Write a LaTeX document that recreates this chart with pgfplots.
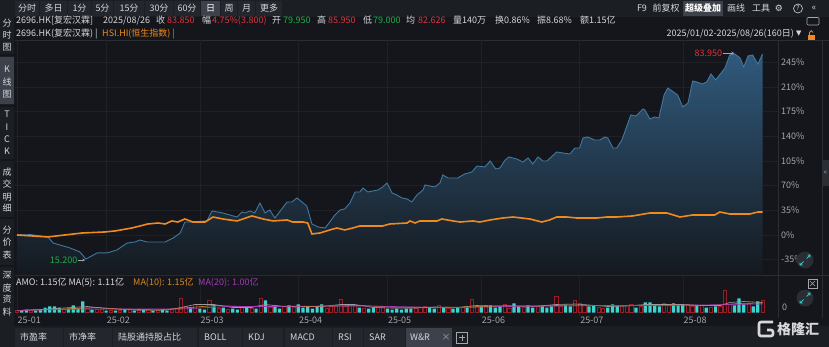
\documentclass[border=0pt]{standalone}
\usepackage{pgfplots}
\pgfplotsset{compat=1.18}
\usepackage{pgfplotstable}
\usepackage{fontspec}
\setmainfont{Noto Sans CJK SC}
\newfontfamily\dejavu{DejaVu Sans}
\definecolor{bg}{HTML}{14161B}
\definecolor{barbg}{HTML}{1B1E23}
\definecolor{tabbg}{HTML}{23262C}
\definecolor{tabhi}{HTML}{3C414B}
\definecolor{sepc}{HTML}{2A2D34}
\definecolor{gridc}{HTML}{1E2126}
\definecolor{txt}{HTML}{D6D8DC}
\definecolor{gry}{HTML}{A3A6AC}
\definecolor{upred}{HTML}{E0323C}
\definecolor{dngreen}{HTML}{1FAE4B}
\definecolor{hsiorange}{HTML}{F08A1C}
\definecolor{bline}{HTML}{3F78A0}
\definecolor{areatop}{HTML}{30597B}
\definecolor{areabot}{HTML}{15191F}
\definecolor{volcyan}{HTML}{3CD3D0}
\definecolor{volred}{HTML}{9C1C25}
\definecolor{mapurple}{HTML}{A23BB5}
\definecolor{maorange}{HTML}{D98A22}
\definecolor{magray}{HTML}{9A9CA0}
\newcommand{\fs}{\fontsize{9}{10}\selectfont}

\pgfplotstableread{
i p
0 0
3 0.5
6.6 -2.8
7.7 -11.4
11.3 -18.4
13.4 -24.1
14.7 -34.1
17.1 -25.5
19.2 -25.5
21.3 -21.3
23.5 -11.4
25.2 -9.9
26.2 -7.1
27.7 -9.9
31.6 -9.9
33.3 -4.3
34.8 2.8
35.8 18.4
36.9 18.4
40.5 19.9
41.6 34.1
43.9 31.2
46.9 25.5
48.0 32.6
48.6 31.2
49.7 34.1
50.7 31.2
51.8 45.4
52.9 31.2
53.9 35.5
55.0 24.1
57.6 46.8
58.6 46.8
59.7 52.5
61.8 41.2
62.9 15.6
64.2 11.4
65.7 9.9
66.7 18.4
67.8 28.4
68.9 35.5
69.9 36.9
71.0 45.4
72.1 61.0
73.1 61.0
73.8 66.7
74.8 61.0
77.0 63.9
78.0 68.1
78.9 73.8
80.0 59.6
81.0 56.8
82.1 52.5
83.2 51.1
84.2 46.8
85.3 56.8
86.6 63.9
87.0 71.0
89.1 68.1
90.2 73.8
90.8 85.1
91.9 80.9
94.0 80.9
95.5 86.6
97.0 89.4
98.1 97.9
99.8 96.5
100.9 105.0
102.1 93.7
103.0 95.1
104.1 106.4
104.9 110.7
106.6 107.8
107.9 103.6
109.0 109.3
110.0 100.7
111.1 110.7
112.2 105.0
113.0 105.0
115.1 117.8
116.4 116.4
117.9 114.9
119.0 123.5
120.0 123.5
120.7 137.6
121.7 139.1
123.2 134.8
124.3 134.8
125.4 139.1
126.0 137.6
127.1 123.5
127.9 123.5
129.0 134.8
130.9 170.3
132.0 168.9
133.5 178.8
133.9 177.4
135.0 164.6
136.0 167.4
136.9 166.0
138.0 198.7
138.8 208.6
140.9 198.7
142.0 181.6
143.1 187.3
144.1 218.5
145.0 217.1
146.1 214.3
147.1 217.1
148.0 228.5
149.0 220.0
151.0 237.0
152.0 255.4
153.1 256.8
154.2 251.2
155.0 238.4
155.9 254.0
156.9 255.4
158.0 242.6
159.0 256.8
}\bluetab

\pgfplotstableread{
i p
0 0
6.6 -2.8
10.2 0
13.9 2.8
18.8 4.3
20.9 5.7
24.5 9.9
27.9 15.6
30.1 17.0
31.6 15.6
33.0 19.9
34.3 18.4
35.8 22.7
37.5 18.4
40.1 18.4
41.8 25.5
43.9 22.7
46.9 19.9
50.1 27.0
52.5 22.7
54.6 19.9
57.6 21.3
58.8 18.4
61.0 18.4
62.0 17.0
62.9 1.4
64.6 2.8
66.7 7.1
68.2 9.9
69.9 7.1
71.6 9.9
73.1 12.8
78.0 12.8
79.5 15.6
83.2 17.0
83.8 19.9
84.9 17.0
85.9 19.9
89.6 19.9
90.6 22.7
93.0 19.9
94.5 18.4
97.2 19.9
98.7 18.4
100.9 21.3
103.6 24.1
105.8 25.5
109.4 22.7
111.9 18.4
113.6 21.3
115.1 25.5
117.3 25.5
119.4 24.1
123.7 24.1
125.8 25.5
127.9 25.5
131.3 27.0
135.0 31.2
138.6 31.2
141.4 25.5
144.1 28.4
148.8 28.4
149.9 32.6
152.0 29.8
156.3 29.8
158.0 32.6
159.0 32.6
}\hsitab

\begin{document}
\begin{tikzpicture}[x=1pt,y=1pt]
\path[use as bounding box] (0,0) rectangle (829,-347);
\fill[bg] (0,0) rectangle (829,-347);
% ---------- top toolbar
\fill[barbg] (0,0) rectangle (829,-17);
\foreach \a/\b/\t in {15/39/分时,40/67/多日,68/91/1分,92/113/5分,114/144/15分,145/173/30分,174/200/60分,201/220/日,221/237/周,238/255/月,256/282/更多}{
  \fill[tabbg] (\a,-1) rectangle (\b,-16);
  \node[font=\fs, text=txt, inner sep=0pt] at ({(\a+\b)/2},-8.5) {\t};
}
\fill[tabhi] (201,-1) rectangle (220,-16);
\node[font=\fs, text=white, inner sep=0pt] at (210.5,-8.5) {日};
\node[font=\fs, text=txt, inner sep=0pt] at (642,-8.5) {F9};
\node[font=\fs, text=txt, inner sep=0pt] at (666,-8.5) {前复权};
\fill[tabhi] (683,-1) rectangle (723,-16);
\node[font=\fs\bfseries, text=white, inner sep=0pt] at (703,-8.5) {超级叠加};
\node[font=\fs, text=txt, inner sep=0pt] at (736,-8.5) {画线};
\node[font=\fs, text=txt, inner sep=0pt] at (761,-8.5) {工具};
\node[font=\dejavu\fontsize{9}{9}\selectfont, text=txt, inner sep=0pt] at (779,-8.5) {⚙};
\draw[txt, line width=0.6pt] (798,-8.5) circle (4.5);
\node[font=\fontsize{6.5}{7}\selectfont, text=txt, inner sep=0pt] at (798,-8.5) {?};
\node[font=\fs, text=txt, inner sep=0pt] at (814,-8.5) {«};
% ---------- left sidebar
\fill[barbg] (0,-17) rectangle (14,-326);
\fill[tabhi] (0,-57) rectangle (14,-104);
\foreach \y in {55,106,160,218,266}{\draw[bg, line width=1.2pt] (0,-\y) -- (14,-\y);}
\foreach \y/\t in {23/分,35/时,47/图,69/K,82/线,94/图,114/T,127/I,139/C,151/K,172/成,184/交,197/明,208/细,230/分,242/价,255/表,275/深,288/度,299/资,312/料}{
  \node[font=\fs, text=txt, inner sep=0pt] at (7,-\y) {\t};
}
% ---------- info rows
\begin{scope}[every node/.style={font=\fs, inner sep=0pt, anchor=west}]
\node[text=txt] at (16,-20.5) {2696.HK[复宏汉霖]};
\node[text=txt] at (103,-20.5) {2025/08/26};
\node[text=txt] at (156,-20.5) {收};
\node[text=upred] at (167,-20.5) {83.850};
\node[text=txt] at (202,-20.5) {幅};
\node[text=upred] at (212,-20.5) {4.75\%(3.800)};
\node[text=txt] at (272,-20.5) {开};
\node[text=dngreen] at (283,-20.5) {79.950};
\node[text=txt] at (317,-20.5) {高};
\node[text=upred] at (328,-20.5) {85.950};
\node[text=txt] at (363,-20.5) {低};
\node[text=dngreen] at (373,-20.5) {79.000};
\node[text=txt] at (406,-20.5) {均};
\node[text=upred] at (418,-20.5) {82.626};
\node[text=txt] at (453,-20.5) {量140万};
\node[text=txt] at (495,-20.5) {换0.86\%};
\node[text=txt] at (537,-20.5) {振8.68\%};
\node[text=txt] at (580,-20.5) {额1.15亿};
\node[text=txt] at (16,-34) {2696.HK(复宏汉霖) |};
\node[text=hsiorange] at (102,-34) {HSI.HI(恒生指数) |};
\node[text=txt, anchor=east] at (794,-34) {2025/01/02-2025/08/26(160日)};
\node[text=txt, font=\dejavu\fontsize{7}{7}\selectfont] at (796,-34) {▼};
\end{scope}
\fill[hsiorange] (808,-35) rectangle (815,-40);
\draw[hsiorange, line width=0.8pt] (809.5,-35) -- (809.5,-32.5) arc (180:0:1.8);
\draw[gry, line width=0.6pt, rounded corners=1pt] (807,-17.5) rectangle (819,-25);
% ---------- frame lines
\draw[sepc, line width=0.6pt] (15,-40) -- (829,-40);
\draw[sepc, line width=0.6pt] (15,-275.5) -- (829,-275.5);
\draw[sepc, line width=0.6pt] (778,-40) -- (778,-318);
\draw[sepc, line width=0.6pt] (822,-40) -- (822,-318);
% ---------- main axis
\begin{axis}[at={(15pt,-275pt)}, anchor=south west, scale only axis,
  width=763pt, height=235pt,
  xmin=-0.43, xmax=162.3, ymin=-56.8, ymax=276.7,
  axis line style={draw=none}, major tick length=0pt,
  xtick={0,19,39,60,79,99,120,142}, xticklabels={},
  ytick={-35,0,35,70,105,140,175,210,245},
  yticklabels={-35\%,0\%,35\%,70\%,105\%,140\%,175\%,210\%,245\%},
  yticklabel pos=right,
  yticklabel style={font=\fs, text=gry, anchor=west, inner sep=0pt, xshift=3pt},
  grid=major, major grid style={gridc, line width=0.5pt},
]
\addplot[draw=none, top color=areatop, bottom color=areabot] table[x=i,y=p] {\bluetab}
  -- (axis cs:159,-56.8) -- (axis cs:0,-56.8) -- cycle;
\addplot[bline, line width=0.9pt] table[x=i,y=p] {\bluetab};
\addplot[hsiorange, line width=1.6pt] table[x=i,y=p] {\hsitab};
\draw[gry, ->, >=stealth, line width=0.4pt] (axis cs:13.0,-35.5) -- (axis cs:14.6,-35.5);
\node[font=\fs, text=dngreen, anchor=east, inner sep=0pt] at (axis cs:12.9,-35.5) {15.200};
\draw[gry, ->, >=stealth, line width=0.4pt] (axis cs:150.5,258) -- (axis cs:153.0,258);
\node[font=\fs, text=upred, anchor=east, inner sep=0pt] at (axis cs:150.4,258) {83.950};
\end{axis}
% ---------- volume axis
\begin{axis}[at={(15pt,-316pt)}, anchor=south west, scale only axis,
  width=763pt, height=40pt,
  xmin=-0.43, xmax=162.3, ymin=-3.5, ymax=36.5,
  axis line style={draw=none}, major tick length=0pt, ytick=\empty,
  xtick={0,19,39,60,79,99,120,142},
  xticklabels={25-01,25-02,25-03,25-04,25-05,25-06,25-07,25-08},
  xticklabel style={font=\fs, text=gry, anchor=north west, inner sep=0pt, yshift=-1pt, xshift=0.5pt},
  xmajorgrids, major grid style={gridc, line width=0.5pt},
]
\addplot[ybar, bar width=3.2pt, bar shift=0pt, fill=volcyan, draw=none] coordinates {
(1,2)(2,3)(4,2)(5,3)(6,5)(7,6)(8,6)(9,5)(11,4)(12,7)(13,4)(14,11)(16,3)(19,2)(21,2)(23,3)(25,2)(27,3)(29,2)(31,3)(32,2)(37,5)(39,4)(40,3)(42,6)(44,5)(46,4)(47,3)(49,5)(51,4)(53,12)(55,6)(56,4)(58,7)(60,8)(61,5)(62,6)(63,4)(64,6)(65,8)(73,5)(75,4)(76,5)(79,4)(80,3)(81,4)(82,3)(83,4)(84,4)(88,5)(89,4)(91,5)(93,4)(94,5)(96,5)(99,6)(101,7)(102,5)(103,6)(106,9)(107,6)(109,7)(110,5)(112,6)(113,5)(114,6)(117,7)(118,6)(122,6)(123,7)(126,5)(127,8)(128,6)(132,5)(134,10)(135,10)(136,8)(137,6)(140,9)(141,7)(142,8)(145,7)(147,5)(149,6)(153,7)(154,14)(155,8)(157,6)(158,11)};
\addplot[ybar, bar width=3.2pt, bar shift=0pt, draw=volred, fill=none, line width=0.6pt] coordinates {
(0,2)(3,2)(10,3)(15,4)(17,3)(18,3)(20,2)(22,2)(24,3)(26,2)(28,3)(30,2)(33,3)(34,4)(35,14)(36,6)(38,8)(41,12)(43,4)(45,3)(48,5)(50,4)(52,14)(54,5)(57,6)(59,5)(66,4)(67,6)(68,7)(69,13)(70,6)(71,8)(72,7)(74,4)(77,5)(78,6)(85,4)(86,5)(87,6)(90,7)(92,4)(95,5)(97,13)(98,6)(100,7)(104,8)(105,4)(108,5)(111,6)(115,16)(116,6)(119,12)(120,9)(121,7)(124,5)(125,4)(129,6)(130,7)(131,8)(133,6)(138,9)(139,7)(143,8)(144,6)(146,7)(148,5)(150,6)(151,22)(152,8)(156,9)(159,12)};
\addplot[magray, line width=0.6pt] coordinates {(0,2)(5,3)(10,4.5)(15,6)(19,4)(25,2.5)(32,2.5)(35,5)(38,8)(42,8)(46,5)(50,5)(53,8)(57,6)(61,6)(65,6)(69,8)(72,8)(76,5)(80,4.5)(85,4.5)(89,5.5)(94,5)(98,7)(102,6.5)(106,6.5)(110,6)(115,8)(119,8.5)(122,7.5)(126,6)(130,6.5)(134,8)(138,8)(142,8)(146,7)(150,7)(152,10)(155,11)(159,10)};
\addplot[maorange, line width=0.6pt] coordinates {(0,2)(10,3.5)(17,5)(22,3.5)(30,2.5)(37,5)(42,7)(48,6)(55,6.5)(62,6)(68,6.5)(73,7)(80,5.5)(88,5)(96,5.5)(104,6.5)(112,6.5)(118,7.5)(124,7)(132,7)(140,7.5)(148,7)(154,9)(159,9.5)};
\addplot[mapurple, line width=0.6pt] coordinates {(0,2)(15,3.5)(25,3.5)(35,3.5)(45,6)(55,6)(65,6.5)(75,6.5)(85,5.5)(95,5)(105,6)(115,6.5)(125,7)(135,7)(145,7.5)(159,8.5)};
\end{axis}
% volume legend
\begin{scope}[every node/.style={font=\fs, inner sep=0pt, anchor=west}]
\node[text=txt] at (16,-283) {AMO: 1.15亿\ MA(5): 1.11亿};
\node[text=maorange] at (133,-283) {MA(10): 1.15亿};
\node[text=mapurple] at (198,-283) {MA(20): 1.00亿};
\node[text=gry] at (782,-307) {0};
\end{scope}
% right-side buttons
\fill[sepc] (805,-260) circle (8.5);
\draw[volcyan, line width=0.7pt] (806.5,-258.5) -- (810,-255) (807.5,-255) -- (810,-255) -- (810,-257.5);
\draw[volcyan, line width=0.7pt] (803.5,-261.5) -- (800,-265) (802.5,-265) -- (800,-265) -- (800,-262.5);
\fill[sepc] (805,-298) circle (8.5);
\draw[volcyan, line width=0.7pt] (806.5,-296.5) -- (810,-293) (807.5,-293) -- (810,-293) -- (810,-295.5);
\draw[volcyan, line width=0.7pt] (803.5,-299.5) -- (800,-303) (802.5,-303) -- (800,-303) -- (800,-300.5);
\draw[gry, line width=0.5pt] (808,-279) rectangle (817,-288);
\draw[gry, line width=0.6pt] (810,-281) -- (815,-286) (815,-281) -- (810,-286);
\fill[sepc] (822,-160) rectangle (829,-186);
\node[font=\fontsize{7}{7}\selectfont, text=gry, inner sep=0pt] at (825.5,-173) {«};
% ---------- bottom tab bar
\fill[barbg] (0,-326) rectangle (829,-347);
\foreach \a/\b/\t in {15/63/市盈率,64/112/市净率,113/197/陆股通持股占比,199/242/BOLL,243/283/KDJ,285/332/MACD,333/363/RSI,364/405/SAR}{
  \fill[tabbg] (\a,-328) rectangle (\b,-347);
  \node[font=\fs, text=txt, inner sep=0pt, anchor=west] at (\a+5,-337.5) {\t};
}
\fill[tabhi] (406,-328) rectangle (452,-347);
\node[font=\fs, text=txt, inner sep=0pt, anchor=west] at (410,-337.5) {W\&R};
\node[font=\fs, text=gry, inner sep=0pt] at (446,-337.5) {×};
\draw[gry, line width=0.6pt] (456.5,-332) rectangle (467.5,-343);
\draw[gry, line width=0.6pt] (462,-334.5) -- (462,-340.5) (459,-337.5) -- (465,-337.5);
% logo
\draw[txt, line width=2.6pt, rounded corners=2pt] (773,-322) -- (759,-322) -- (759,-336) -- (773,-336) -- (773,-330) -- (767,-330);
\node[font=\fontsize{14}{14}\selectfont\bfseries, text=txt, inner sep=0pt, anchor=west] at (777,-329) {格隆汇};
\end{tikzpicture}
\end{document}
